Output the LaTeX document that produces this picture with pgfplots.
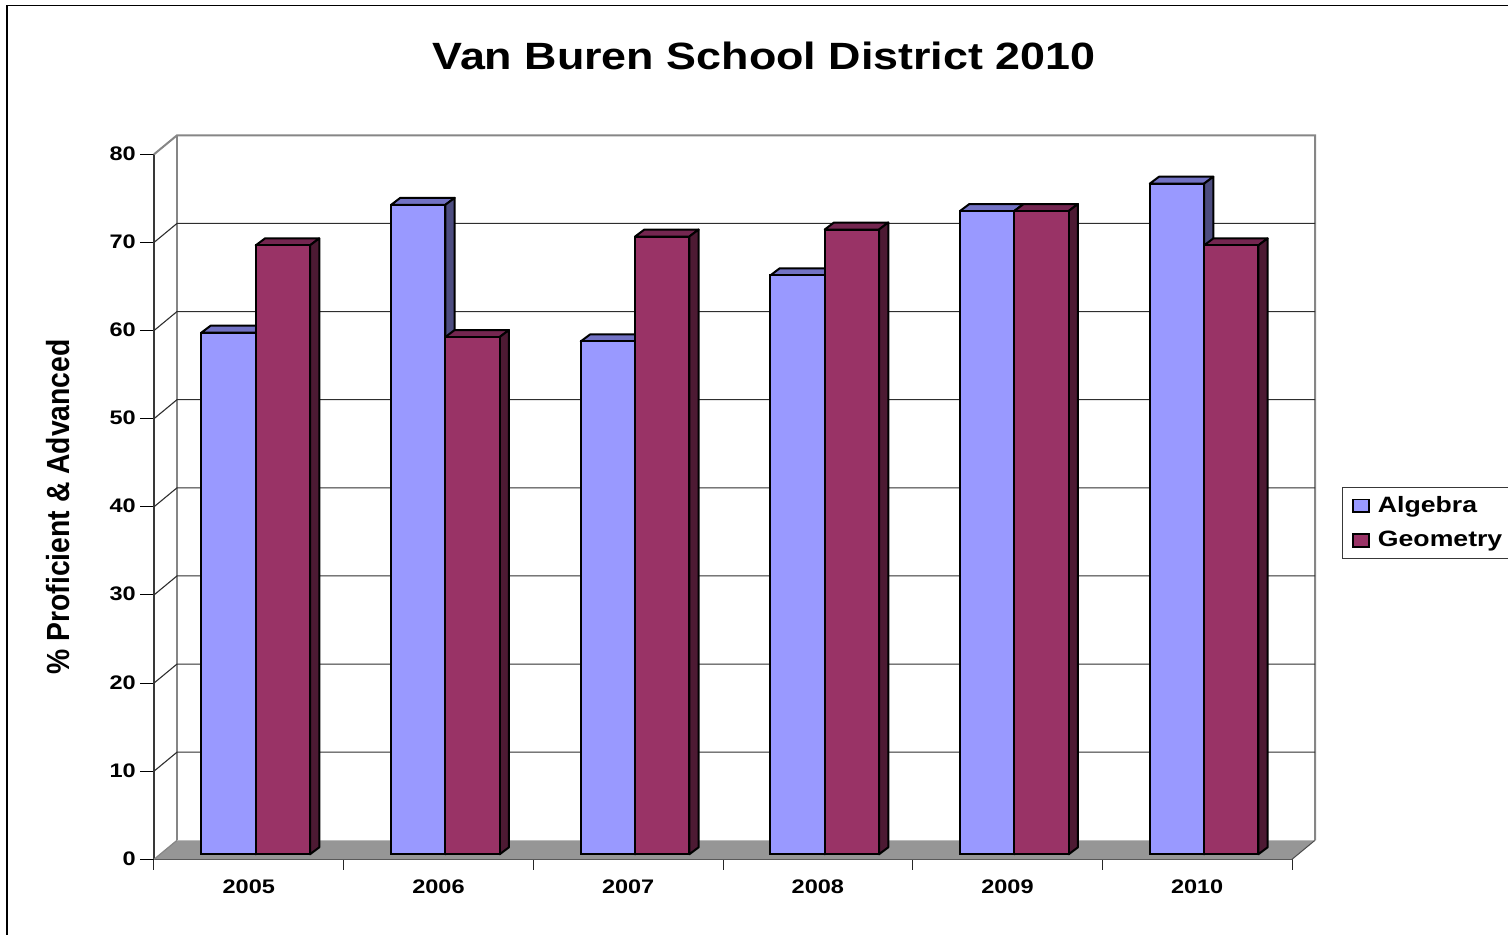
\documentclass[border=0pt]{standalone}
\usepackage{pgfplots}
\pgfplotsset{compat=1.18}
\usepackage{fontspec}
\setmainfont{Liberation Sans}
\newfontfamily\tickfont[FakeStretch=1.2]{Liberation Sans}
\newfontfamily\titlefont[FakeStretch=1.18]{Liberation Sans}
\newfontfamily\labelfont[FakeStretch=0.885]{Liberation Sans}
\definecolor{algF}{HTML}{9999FF}
\definecolor{algT}{HTML}{7272C4}
\definecolor{algS}{HTML}{4D4D80}
\definecolor{geoF}{HTML}{993366}
\definecolor{geoT}{HTML}{742650}
\definecolor{geoS}{HTML}{4D1A33}
\definecolor{wall}{HTML}{868686}
\definecolor{floorc}{HTML}{969696}
\newcommand{\depthbox}[4]{%
 \pgfmathsetmacro{\xa}{#1}%
 \pgfmathsetmacro{\xb}{#1+0.2863}%
 \pgfmathsetmacro{\xc}{#1+0.2863+0.049}%
 \pgfmathsetmacro{\xd}{#1+0.049}%
 \pgfmathsetmacro{\vt}{#2+0.794}%
 \addplot[forget plot,fill=#3,draw=black,line width=1pt,line join=round] coordinates {(\xa,#2) (\xb,#2) (\xc,\vt) (\xd,\vt)} --cycle;
 \addplot[forget plot,fill=#4,draw=black,line width=1pt,line join=round] coordinates {(\xb,0) (\xc,0.794) (\xc,\vt) (\xb,#2)} --cycle;
}
\begin{document}
\begin{tikzpicture}[x=1pt,y=1pt]
\path[use as bounding box] (0,0) rectangle (754,467);
\draw[black,line width=0.9pt] (3.6,-2) -- (3.6,464.2) -- (756,464.2);
\node[font=\titlefont\bfseries\fontsize{19}{22}\selectfont,anchor=center] at (382,439.1) {Van Buren School District 2010};
\begin{axis}[
  at={(77pt,37.35pt)},anchor=origin,
  scale only axis,width=569pt,height=352.5pt,
  xmin=0,xmax=6,ymin=0,ymax=80,
  clip=false,
  axis x line*=bottom,axis y line*=left,
  axis line style={-,draw=black!78,line width=1pt},
  xtick={0.5,1.5,2.5,3.5,4.5,5.5},
  xticklabels={2005,2006,2007,2008,2009,2010},
  minor xtick={0,1,2,3,4,5,6},
  ytick={0,10,...,80},
  tick align=outside,
  major tick length=7pt,minor tick length=5.3pt,
  xtick style={draw=none},
  minor x tick style={draw=black!85,line width=0.5pt},
  ytick style={draw=black,line width=0.5pt},
  x tick label style={yshift=0.4pt},
  y tick label style={xshift=1.4pt,yshift=0.4pt},
  ticklabel style={font=\tickfont\bfseries\fontsize{9.8}{11}\selectfont},
  /pgf/number format/assume math mode=true,
  ylabel={\labelfont\bfseries\fontsize{16}{18}\selectfont \% Proficient \& Advanced},
  ylabel style={at={(axis description cs:-0.0845,0.5)},anchor=center},
]
\addplot[forget plot,fill=floorc,draw=none] coordinates {(0,0) (6,0) (6.1213,2.157) (0.1213,2.157)} --cycle;
\addplot[forget plot,draw=black!70,line width=0.5pt] coordinates {(6,0) (6.1213,2.157)};
\addplot[forget plot,draw=wall,line width=0.6pt] coordinates {(0,0) (0.1213,2.157)};
\addplot[forget plot,draw=wall,line width=1pt] coordinates {(0,80) (0.1213,82.157) (6.1213,82.157) (6.1213,2.157)};
\addplot[forget plot,draw=wall,line width=1pt] coordinates {(0.1213,82.157) (0.1213,2.157)};
\addplot[forget plot,draw=black!82,line width=0.55pt] coordinates {(0,10) (0.1213,12.157) (6.1213,12.157)};
\addplot[forget plot,draw=black!82,line width=0.55pt] coordinates {(0,20) (0.1213,22.157) (6.1213,22.157)};
\addplot[forget plot,draw=black!82,line width=0.55pt] coordinates {(0,30) (0.1213,32.157) (6.1213,32.157)};
\addplot[forget plot,draw=black!82,line width=0.55pt] coordinates {(0,40) (0.1213,42.157) (6.1213,42.157)};
\addplot[forget plot,draw=black!82,line width=0.55pt] coordinates {(0,50) (0.1213,52.157) (6.1213,52.157)};
\addplot[forget plot,draw=black!82,line width=0.55pt] coordinates {(0,60) (0.1213,62.157) (6.1213,62.157)};
\addplot[forget plot,draw=black!82,line width=0.55pt] coordinates {(0,70) (0.1213,72.157) (6.1213,72.157)};
\end{axis}
\begin{axis}[
  at={(80.45pt,39.85pt)},anchor=origin,
  scale only axis,width=569pt,height=352.5pt,
  xmin=0,xmax=6,ymin=0,ymax=80,
  clip=false,hide axis,
  legend style={at={(rel axis cs:1.0376,0.5214)},anchor=north west,draw=black!78,line width=0.45pt,
    font=\tickfont\bfseries\fontsize{11.1}{12}\selectfont,
    legend cell align=left,row sep=4pt,inner xsep=5pt,inner ysep=2.5pt},
]
% Algebra: side and top faces, one group at a time
\depthbox{0.2135}{59.2}{algT}{algS}
\depthbox{1.2135}{73.7}{algT}{algS}
\depthbox{2.2135}{58.2}{algT}{algS}
\depthbox{3.2135}{65.7}{algT}{algS}
\depthbox{4.2135}{73.0}{algT}{algS}
\depthbox{5.2135}{76.1}{algT}{algS}
\addplot[ybar,bar width=27.15pt,bar shift=-13.575pt,fill=algF,draw=black,line width=1pt,
  legend image code/.code={\path[draw=none,fill=none] (0pt,0pt) -- (10.5pt,0pt);\draw[fill=algF,draw=black,line width=0.8pt] (0pt,-3.2pt) rectangle (8pt,3.2pt);}]
  coordinates {(0.5,59.2) (1.5,73.7) (2.5,58.2) (3.5,65.7) (4.5,73.0) (5.5,76.1)};
\addlegendentry{Algebra}
\depthbox{0.4998}{69.1}{geoT}{geoS}
\depthbox{1.4998}{58.7}{geoT}{geoS}
\depthbox{2.4998}{70.1}{geoT}{geoS}
\depthbox{3.4998}{70.9}{geoT}{geoS}
\depthbox{4.4998}{73.0}{geoT}{geoS}
\depthbox{5.4998}{69.1}{geoT}{geoS}
\addplot[ybar,bar width=27.15pt,bar shift=13.575pt,fill=geoF,draw=black,line width=1pt,
  legend image code/.code={\path[draw=none,fill=none] (0pt,0pt) -- (10.5pt,0pt);\draw[fill=geoF,draw=black,line width=0.8pt] (0pt,-3.2pt) rectangle (8pt,3.2pt);}]
  coordinates {(0.5,69.1) (1.5,58.7) (2.5,70.1) (3.5,70.9) (4.5,73.0) (5.5,69.1)};
\addlegendentry{Geometry}
\end{axis}
\end{tikzpicture}
\end{document}
